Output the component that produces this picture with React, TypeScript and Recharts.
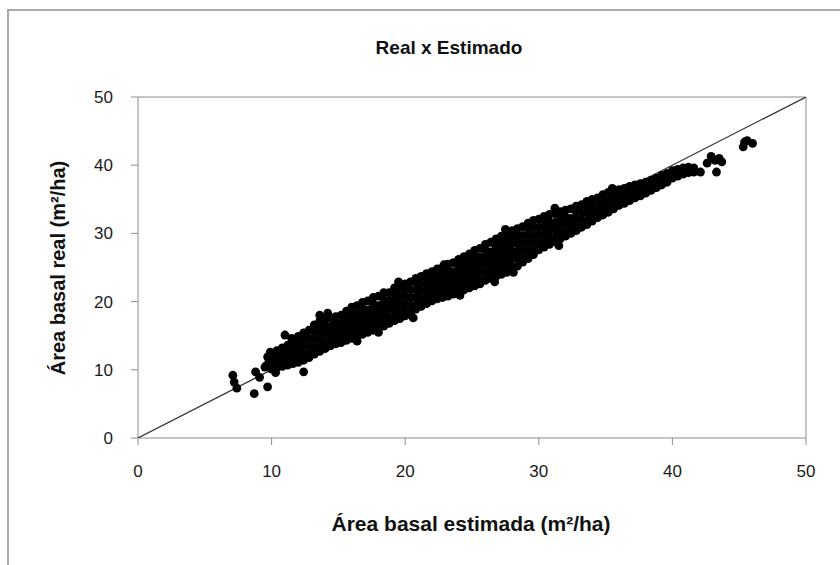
import React from "react";
import { ScatterChart, Scatter, XAxis, YAxis, ReferenceLine } from "recharts";

// Axis ticks
const xTicks = [0, 10, 20, 30, 40, 50];
const yTicks = [0, 10, 20, 30, 40, 50];

// 1:1 reference line end points (estimado = real)
const identityLine = [
  { est: 0, real: 0 },
  { est: 50, real: 50 },
];

// Isolated points at the lower end: [estimated, real]
const lowPoints: number[][] = [
  [7.1, 9.2], [7.2, 8.2], [7.4, 7.3], [8.7, 6.5], [8.8, 9.7], [9.1, 8.9],
  [9.7, 7.5], [9.5, 10.4], [9.7, 11.9], [12.4, 9.7], [11.0, 15.1], [13.6, 18.0],
  [10.3, 9.6], [11.5, 14.6], [9.6, 10.6], [9.8, 11.5], [9.9, 12.6],
];

// Dense band, read column by column: [estimated, real, real, ...]
const bandColumns: number[][] = [
  [10.0, 10.1, 11.2, 12.4],
  [10.4, 10.3, 10.9, 11.9, 12.8],
  [10.8, 10.5, 11.6, 12.7, 13.2],
  [11.2, 10.7, 11.3, 12.4, 13.6],
  [11.6, 10.9, 12.0, 13.1, 14.1],
  [12.0, 11.1, 11.7, 12.8, 13.9, 14.9],
  [12.4, 11.4, 12.5, 13.6, 14.7, 15.4],
  [12.8, 11.8, 12.4, 13.5, 14.6, 15.8],
  [13.2, 12.3, 13.4, 14.5, 15.6, 16.6],
  [13.6, 12.7, 13.3, 14.4, 15.5, 16.6, 17.1],
  [14.0, 13.1, 14.2, 15.3, 16.4, 17.4],
  [14.4, 13.5, 14.1, 15.2, 16.3, 17.5],
  [14.8, 13.8, 14.9, 16.0, 17.1, 17.8],
  [15.2, 14.0, 14.6, 15.7, 16.8, 18.0],
  [15.6, 14.3, 15.4, 16.5, 17.6, 18.6],
  [16.0, 14.6, 15.2, 16.3, 17.4, 18.5, 19.2],
  [16.4, 14.9, 16.0, 17.1, 18.2, 19.4],
  [16.8, 15.2, 15.8, 16.9, 18.0, 19.1, 19.9],
  [17.2, 15.5, 16.6, 17.7, 18.8, 20.1],
  [17.6, 15.8, 16.4, 17.5, 18.6, 19.7, 20.6],
  [18.0, 16.1, 17.2, 18.3, 19.4, 20.8],
  [18.4, 16.4, 17.0, 18.1, 19.2, 20.3, 21.3],
  [18.8, 16.8, 17.9, 19.0, 20.1, 21.3],
  [19.2, 17.2, 17.8, 18.9, 20.0, 21.1, 22.0],
  [19.6, 17.5, 18.6, 19.7, 20.8, 22.0],
  [20.0, 17.9, 18.5, 19.6, 20.7, 21.8, 22.6],
  [20.4, 18.4, 19.5, 20.6, 21.7, 22.9],
  [20.8, 18.9, 19.5, 20.6, 21.7, 22.8, 23.4],
  [21.2, 19.3, 20.4, 21.5, 22.6, 23.7],
  [21.6, 19.7, 20.3, 21.4, 22.5, 23.6, 24.1],
  [22.0, 20.1, 21.2, 22.3, 23.4, 24.4],
  [22.4, 20.4, 21.0, 22.1, 23.2, 24.3, 24.8],
  [22.8, 20.6, 21.7, 22.8, 23.9, 25.0],
  [23.2, 20.8, 21.4, 22.5, 23.6, 24.7, 25.5],
  [23.6, 21.1, 22.2, 23.3, 24.4, 25.7],
  [24.0, 21.4, 22.0, 23.1, 24.2, 25.3, 26.2],
  [24.4, 21.7, 22.8, 23.9, 25.0, 26.1, 26.6],
  [24.8, 22.0, 22.6, 23.7, 24.8, 25.9, 27.0],
  [25.2, 22.3, 23.4, 24.5, 25.6, 26.7, 27.5],
  [25.6, 22.6, 23.2, 24.3, 25.4, 26.5, 27.8],
  [26.0, 23.1, 24.2, 25.3, 26.4, 27.5, 28.4],
  [26.4, 23.4, 24.0, 25.1, 26.2, 27.3, 28.7],
  [26.8, 23.7, 24.8, 25.9, 27.0, 28.1, 29.2],
  [27.2, 24.0, 24.6, 25.7, 26.8, 27.9, 29.0, 29.6],
  [27.6, 24.3, 25.4, 26.5, 27.6, 28.7, 29.9],
  [28.0, 24.6, 25.2, 26.3, 27.4, 28.5, 29.6, 30.4],
  [28.4, 25.2, 26.3, 27.4, 28.5, 29.6, 30.7],
  [28.8, 25.8, 26.4, 27.5, 28.6, 29.7, 31.0],
  [29.2, 26.3, 27.4, 28.5, 29.6, 30.7, 31.5],
  [29.6, 26.9, 27.5, 28.6, 29.7, 30.8, 31.9],
  [30.0, 27.6, 28.7, 29.8, 30.9, 32.1],
  [30.4, 28.0, 28.6, 29.7, 30.8, 31.9, 32.5],
  [30.8, 28.4, 29.5, 30.6, 31.7, 32.8],
  [31.2, 28.8, 29.4, 30.5, 31.6, 32.9],
  [31.6, 29.2, 30.3, 31.4, 32.5, 33.2],
  [32.0, 29.6, 30.2, 31.3, 32.4, 33.4],
  [32.4, 30.0, 31.1, 32.2, 33.6],
  [32.8, 30.4, 31.0, 32.1, 33.2, 34.0],
  [33.2, 30.9, 32.0, 33.1, 34.2],
  [33.6, 31.3, 31.9, 33.0, 34.1, 34.7],
  [34.0, 31.8, 32.9, 34.0, 35.0],
  [34.4, 32.3, 32.9, 34.0, 35.2],
  [34.8, 32.7, 33.8, 34.9, 35.7],
  [35.2, 33.1, 33.7, 34.8, 36.0],
  [35.6, 33.6, 34.7, 35.5, 36.2],
  [36.0, 34.1, 34.7, 35.8, 36.4],
  [36.4, 34.4, 35.5, 36.6],
  [36.8, 34.8, 35.8, 36.9],
  [37.2, 35.2, 36.2, 37.1],
  [37.6, 35.5, 36.4, 37.3],
  [38.0, 35.9, 36.7, 37.5],
  [38.4, 36.3, 37.1, 37.8],
  [38.8, 36.7, 37.4, 38.1],
  [39.2, 37.1, 37.8, 38.5],
  [39.6, 37.5, 38.2, 38.8],
  [40.0, 38.1, 38.7, 39.2],
  [40.4, 38.4, 39.0, 39.4],
  [40.8, 38.7, 39.2, 39.6],
  [41.2, 38.9, 39.7],
  [41.6, 39.0, 39.6],
];

// Edge points sticking out of the band: [estimated, real]
const edgePoints: number[][] = [
  [14.2, 18.3], [19.5, 22.9], [22.9, 25.4], [27.5, 30.6], [31.2, 33.7],
  [35.5, 36.6], [20.6, 17.6], [26.7, 22.9], [31.5, 28.2], [16.4, 14.2],
  [24.1, 20.9], [18.0, 15.5], [28.1, 24.3],
];

// Isolated points at the upper end: [estimated, real]
const highPoints: number[][] = [
  [42.1, 39.0], [42.6, 40.3], [42.9, 41.3], [43.2, 40.7], [43.5, 41.0],
  [43.3, 39.0], [43.7, 40.5], [45.3, 42.7], [45.6, 43.6], [46.0, 43.2], [45.4, 43.4],
];

const toPoints = (pairs: number[][]) => pairs.map(([est, real]) => ({ est, real }));
const bandPoints = bandColumns.flatMap(([est, ...reals]) => reals.map((real) => ({ est, real })));
const allPoints = [
  ...toPoints(lowPoints),
  ...bandPoints,
  ...toPoints(edgePoints),
  ...toPoints(highPoints),
];

const FONT = "'Liberation Sans', Arial, sans-serif";
const AXIS_GRAY = "#8c8c8c";

const Dot = (props: any) => <circle cx={props.cx} cy={props.cy} r={4.4} fill="#000" />;
const NoDot = () => <g />;

export default function App() {
  return (
    <div style={{ position: "relative", width: 840, height: 565, overflow: "hidden", background: "#fff" }}>
      <style>{`body{margin:0;overflow:hidden;background:#fff}`}</style>
      <div
        style={{
          position: "absolute",
          left: 7,
          top: 9,
          width: 900,
          height: 600,
          borderLeft: "2px solid #a9a9a9",
          borderTop: "2px solid #a9a9a9",
        }}
      />
      <div style={{ position: "absolute", left: 0, top: 0 }}>
        <ScatterChart width={840} height={565} margin={{ top: 97, right: 34, bottom: 77, left: 78 }}>
          <XAxis
            type="number"
            dataKey="est"
            domain={[0, 50]}
            ticks={xTicks}
            height={50}
            stroke={AXIS_GRAY}
            tickSize={7}
            tick={{ fill: "#1a1a1a", fontSize: 17, fontFamily: FONT }}
            tickMargin={20}
            allowDataOverflow
          />
          <YAxis
            type="number"
            dataKey="real"
            domain={[0, 50]}
            ticks={yTicks}
            width={60}
            stroke={AXIS_GRAY}
            tickSize={7}
            tick={{ fill: "#1a1a1a", fontSize: 17, fontFamily: FONT }}
            tickMargin={18}
            allowDataOverflow
          />
          <ReferenceLine y={50} stroke={AXIS_GRAY} strokeWidth={1} />
          <ReferenceLine x={50} stroke={AXIS_GRAY} strokeWidth={1} />
          <Scatter
            data={identityLine}
            line={{ stroke: "#333", strokeWidth: 1.2 }}
            shape={NoDot}
            isAnimationActive={false}
          />
          <Scatter data={allPoints} shape={Dot} isAnimationActive={false} />
        </ScatterChart>
      </div>
      <div
        style={{
          position: "absolute",
          left: 449,
          top: 48,
          transform: "translate(-50%, -50%)",
          fontFamily: FONT,
          fontWeight: "bold",
          fontSize: 19,
          whiteSpace: "nowrap",
          color: "#111",
        }}
      >
        Real x Estimado
      </div>
      <div
        style={{
          position: "absolute",
          left: 471,
          top: 524,
          transform: "translate(-50%, -50%)",
          fontFamily: FONT,
          fontWeight: "bold",
          fontSize: 21,
          whiteSpace: "nowrap",
          color: "#111",
        }}
      >
        Área basal estimada (m²/ha)
      </div>
      <div
        style={{
          position: "absolute",
          left: 58,
          top: 268,
          transform: "translate(-50%, -50%) rotate(-90deg)",
          fontFamily: FONT,
          fontWeight: "bold",
          fontSize: 20,
          whiteSpace: "nowrap",
          color: "#111",
        }}
      >
        Área basal real (m²/ha)
      </div>
    </div>
  );
}
